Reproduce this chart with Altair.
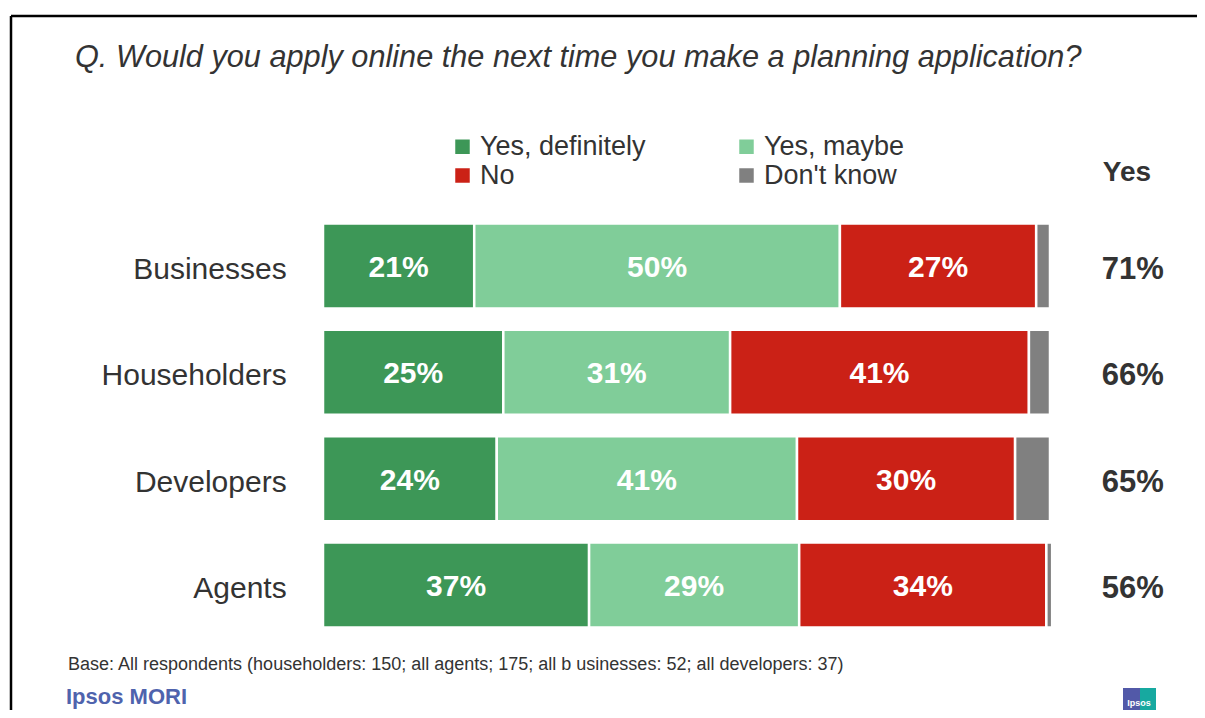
import altair as alt
import pandas as pd

categories = ["Businesses", "Householders", "Developers", "Agents"]
responses = ["Yes, definitely", "Yes, maybe", "No", "Don't know"]
colors = ["#3d9757", "#80cd99", "#cb2116", "#808080"]
legend_order = ["Yes, definitely", "No", "Yes, maybe", "Don't know"]

# segment widths (percent)
yes_definitely = [20.8, 24.8, 23.9, 36.6]
yes_maybe = [50.3, 31.2, 41.3, 28.9]
no_answer = [27.0, 41.1, 30.0, 34.0]
dont_know = [1.9, 2.9, 4.8, 0.8]

# printed labels
yes_definitely_lbl = ["21%", "25%", "24%", "37%"]
yes_maybe_lbl = ["50%", "31%", "41%", "29%"]
no_lbl = ["27%", "41%", "30%", "34%"]
dont_know_lbl = ["", "", "", ""]
yes_totals = ["71%", "66%", "65%", "56%"]

title_text = "Q. Would you apply online the next time you make a planning application?"
base_text = "Base: All respondents (householders: 150; all agents; 175; all b usinesses: 52; all developers: 37)"

series = [yes_definitely, yes_maybe, no_answer, dont_know]
series_lbl = [yes_definitely_lbl, yes_maybe_lbl, no_lbl, dont_know_lbl]

rows = []
for i, cat in enumerate(categories):
    start = 0.0
    for r, vals, labs in zip(responses, series, series_lbl):
        end = start + vals[i]
        rows.append({"category": cat, "idx": i, "top": i - 0.4, "bottom": i + 0.4,
                     "response": r, "start": start, "end": end,
                     "mid": (start + end) / 2, "label": labs[i]})
        start = end
df = pd.DataFrame(rows)
cat_df = pd.DataFrame({"category": categories, "idx": list(range(len(categories))),
                       "yes": yes_totals})

W, H = 1189, 702
XMIN, XMAX = -43.33, 120.22
YTOP, YBOT = -2.4264, 4.1757

xs = alt.Scale(domain=[XMIN, XMAX], nice=False, zero=False)
ys = alt.Scale(domain=[YTOP, YBOT], nice=False, zero=False, reverse=True)

bars = alt.Chart(df).mark_rect(stroke="white", strokeWidth=2.5).encode(
    x=alt.X("start:Q", scale=xs, axis=None),
    x2="end:Q",
    y=alt.Y("top:Q", scale=ys, axis=None),
    y2="bottom:Q",
    color=alt.Color("response:N", sort=responses,
                    scale=alt.Scale(domain=responses, range=colors),
                    legend=alt.Legend(title=None, orient="none", legendX=441, legendY=125,
                                      values=legend_order,
                                      columns=2, symbolType="square", symbolSize=210,
                                      symbolStrokeWidth=0, labelFontSize=27,
                                      labelColor="#333333", columnPadding=87,
                                      rowPadding=1, labelOffset=4, padding=0,
                                      labelLimit=500, labelFont="Liberation Sans")),
)

bar_text = alt.Chart(df).transform_filter(alt.datum.label != "").mark_text(
    color="white", fontWeight="bold", fontSize=30, baseline="middle", align="center", dy=2
).encode(x=alt.X("mid:Q", scale=xs), y=alt.Y("idx:Q", scale=ys), text="label:N")

cat_text = alt.Chart(cat_df).mark_text(
    color="#333333", fontSize=30, align="right", baseline="middle", dy=4
).encode(x=alt.datum(-5), y=alt.Y("idx:Q", scale=ys), text="category:N")

yes_text = alt.Chart(cat_df).mark_text(
    color="#333333", fontSize=31, fontWeight="bold", align="center", baseline="middle", dy=4
).encode(x=alt.datum(111.4), y=alt.Y("idx:Q", scale=ys), text="yes:N")

one = pd.DataFrame({"t": [title_text]})
title = alt.Chart(one).mark_text(
    fontSize=30.7, fontStyle="italic", color="#333333", align="left", baseline="middle"
).encode(x=alt.value(67), y=alt.value(50), text="t:N")

yes_head = alt.Chart(pd.DataFrame({"t": ["Yes"]})).mark_text(
    fontSize=28, fontWeight="bold", color="#333333", align="center", baseline="middle"
).encode(x=alt.value(1119), y=alt.value(165), text="t:N")

base = alt.Chart(pd.DataFrame({"t": [base_text]})).mark_text(
    fontSize=18, color="#333333", align="left", baseline="middle"
).encode(x=alt.value(60), y=alt.value(657), text="t:N")

mori = alt.Chart(pd.DataFrame({"t": ["Ipsos MORI"]})).mark_text(
    fontSize=22, fontWeight="bold", color="#4f63ad", align="left", baseline="middle",
    font="Liberation Sans"
).encode(x=alt.value(58), y=alt.value(689), text="t:N")

frame_top = alt.Chart(pd.DataFrame({"a": [0]})).mark_rule(color="black", strokeWidth=2.5).encode(
    x=alt.value(3), x2=alt.value(W), y=alt.value(8))
frame_left = alt.Chart(pd.DataFrame({"a": [0]})).mark_rule(color="black", strokeWidth=2.5).encode(
    x=alt.value(3), y=alt.value(8), y2=alt.value(H))

logo_l = alt.Chart(pd.DataFrame({"a": [0]})).mark_rect(color="#5259a8").encode(
    x=alt.value(1115), x2=alt.value(1132), y=alt.value(680), y2=alt.value(H))
logo_r = alt.Chart(pd.DataFrame({"a": [0]})).mark_rect(color="#17a9a0").encode(
    x=alt.value(1132), x2=alt.value(1148), y=alt.value(680), y2=alt.value(H))
logo_t = alt.Chart(pd.DataFrame({"t": ["Ipsos"]})).mark_text(
    fontSize=9, color="white", fontWeight="bold", align="center", baseline="middle"
).encode(x=alt.value(1131), y=alt.value(695), text="t:N")

chart = alt.layer(
    frame_top, frame_left, bars, bar_text, cat_text, yes_text, title, yes_head,
    base, mori, logo_l, logo_r, logo_t
).properties(
    width=W, height=H, padding=0, autosize=alt.AutoSizeParams(type="none")
).configure(font="Liberation Sans", view=alt.ViewConfig(stroke=None))

chart.save("out.html", embed_options={"renderer": "svg", "actions": False})
